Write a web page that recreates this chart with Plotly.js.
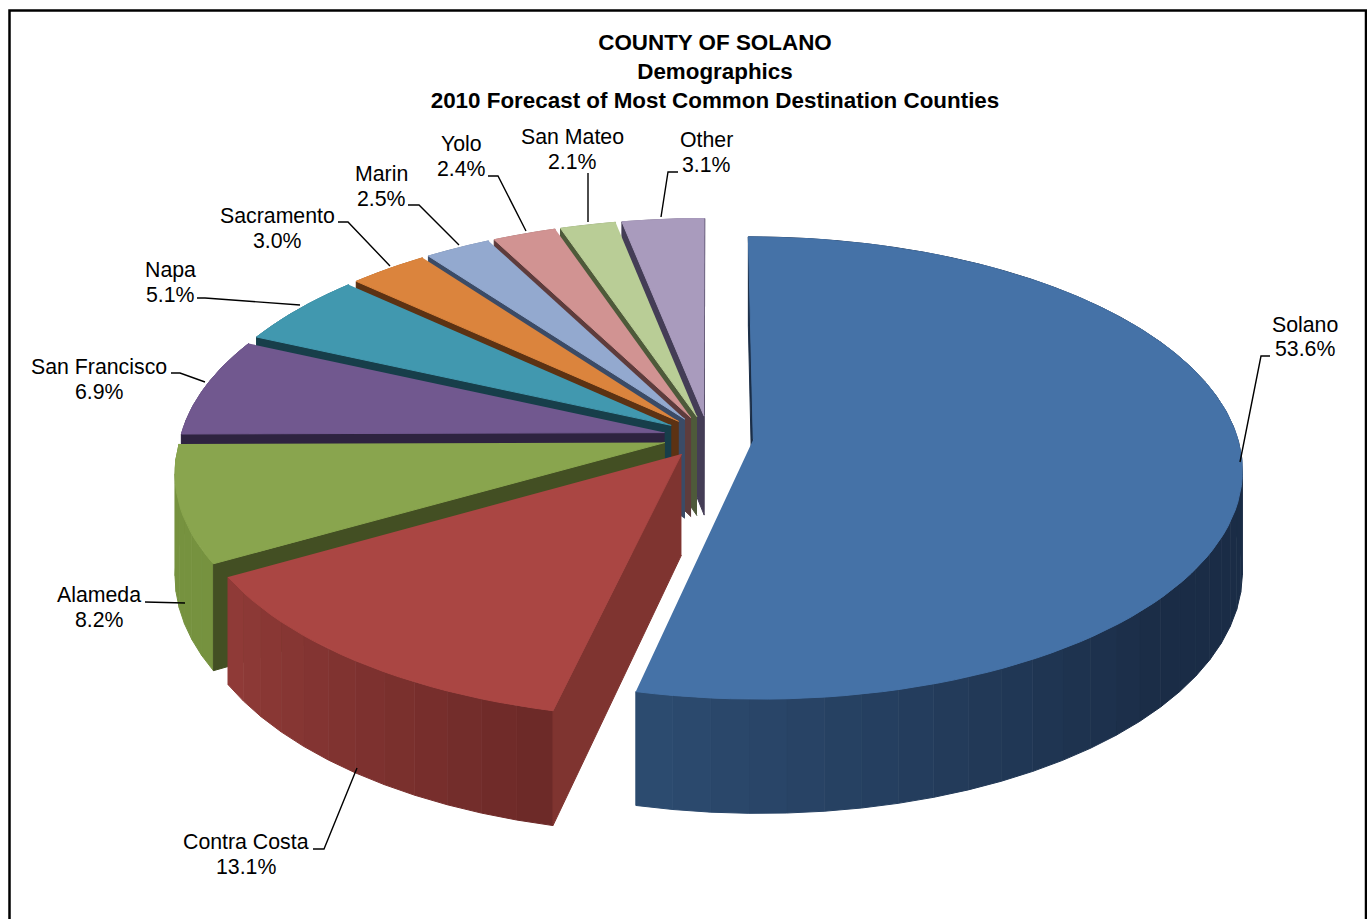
<!DOCTYPE html>
<html>
<head>
<meta charset="utf-8">
<script src="https://cdn.plot.ly/plotly-3.0.1.min.js"></script>
<style>html,body{margin:0;padding:0;background:#fff}#chart{width:1367px;height:919px}</style>
</head>
<body>
<div id="chart"></div>
<script>
// ---- data ----
const counties = ["Solano","Contra Costa","Alameda","San Francisco","Napa","Sacramento","Marin","Yolo","San Mateo","Other"];
const shares   = [53.6,13.1,8.2,6.9,5.1,3.0,2.5,2.4,2.1,3.1];

// ---- styles ----
const topColors    = ["#4572A7","#AA4643","#89A54E","#71588F","#4198AF","#DB843D","#93A9CF","#D19392","#B9CD96","#A99BBD"];
const radialColors = ["#1b2e47","#7f3430","#434f23","#2e2340","#173e4a","#5c3213","#3b4b66","#5e3c3c","#4e5a3a","#443d56"];
const wallLight    = ["#2c4b6f","#903b38","#76923f","#5a4673","#34798c","#af6a31","#7687a6","#a77675","#94a478","#877c97"];
const wallDark     = ["#1a2c46","#6c2927","#76923f","#5a4673","#34798c","#af6a31","#7687a6","#a77675","#94a478","#877c97"];
const shadeFrom    = [130,193,0,0,0,0,0,0,0,0];   // degrees where a wall is darkest
const shadeTo      = [190,240,1,1,1,1,1,1,1,1];   // degrees where a wall is lightest

// ---- label placement (page pixels on the hidden axes) ----
const labelX = [1305,246,99,99,170,277,381,461,572,706];
const nameY  = [325,842,595,367,270,216,174,144,137,140];
const valueY = [349,867,620,392,295,241,199,169,162,165];
const leaderX = [[1270,1261,1240],[313,324,357],[145,185],[171,180,205],[197,205,300],[338,348,390],[408,419,459],[488,498,526],[588,588],[678,668,661]];
const leaderY = [[356,356,462],[849,849,768],[602,603],[373,373,382],[298,298,305],[222,222,266],[205,205,245],[176,176,231],[173,222],[172,172,217]];

// ---- projection of the tilted pie ----
const CX=708.5, CY=437, RX=484, RY=227, K=0.1236, EXPLODE=0.093, DEPTH=100;
function project(u,v,z){
  const s=1/(1-K*v);
  return [CX+RX*u*s, CY+RY*v*s+(z?DEPTH*s:0)];
}
function hex2rgb(h){return [1,3,5].map(i=>parseInt(h.slice(i,i+2),16));}
function mix(a,b,t){const A=hex2rgb(a),B=hex2rgb(b);return 'rgb('+A.map((c,i)=>Math.round(c+(B[i]-c)*t)).join(',')+')';}

const traces=[];
function poly(pts,color,name){
  traces.push({type:'scatter',mode:'lines',x:pts.map(p=>p[0]),y:pts.map(p=>p[1]),fill:'toself',fillcolor:color,
    line:{color:color,width:1},hoverinfo:name?'text':'skip',text:name||'',showlegend:false});
}
const total=shares.reduce((a,b)=>a+b,0);
const slices=[];let acc=0;
shares.forEach((v,i)=>{
  const a0=acc/total*2*Math.PI; acc+=v; const a1=acc/total*2*Math.PI;
  slices.push({i,a0,a1});
});
// paint from the back of the fan to the front
for(let k=slices.length-1;k>=0;k--){
  const {i,a0,a1}=slices[k];
  const mid=(a0+a1)/2, ox=EXPLODE*Math.sin(mid), oy=-EXPLODE*Math.cos(mid);
  const rim=(a,z)=>project(ox+Math.sin(a),oy-Math.cos(a),z);
  const apex=z=>project(ox,oy,z);
  // outer wall as shaded strips
  const n=Math.max(3,Math.ceil((a1-a0)/(Math.PI/45)));
  for(let j=0;j<n;j++){
    const b0=a0+(a1-a0)*j/n, b1=a0+(a1-a0)*(j+1)/n;
    const deg=(b0+b1)/2*180/Math.PI;
    const t=Math.min(1,Math.max(0,(deg-shadeFrom[i])/(shadeTo[i]-shadeFrom[i])));
    poly([rim(b0,0),rim(b1,0),rim(b1,1),rim(b0,1)],mix(wallDark[i],wallLight[i],t));
  }
  // radial walls that face the viewer
  [a0,a1].forEach(a=>{
    const A=apex(0),R=rim(a,0),M=rim(mid,0);
    const dx=R[0]-A[0],dy=R[1]-A[1];
    const solidSide=dx*(M[1]-A[1])-dy*(M[0]-A[0]);
    if(solidSide*dx<0) poly([A,R,rim(a,1),apex(1)],radialColors[i]);
  });
  // top face
  const face=[apex(0)];
  const m=Math.max(8,Math.ceil((a1-a0)/(Math.PI/90)));
  for(let j=0;j<=m;j++) face.push(rim(a0+(a1-a0)*j/m,0));
  poly(face,topColors[i],counties[i]+': '+shares[i].toFixed(1)+'%');
}
// leader lines
counties.forEach((c,i)=>{
  traces.push({type:'scatter',mode:'lines',x:leaderX[i],y:leaderY[i],line:{color:'#000',width:1.4},hoverinfo:'skip',showlegend:false});
});

const annotations=[];
counties.forEach((c,i)=>{
  const base={xref:'x',yref:'y',x:labelX[i],showarrow:false,xanchor:'center',yanchor:'middle',font:{family:'"Liberation Sans",Arial,sans-serif',size:21.3,color:'#000'}};
  annotations.push(Object.assign({},base,{y:nameY[i],text:c}));
  annotations.push(Object.assign({},base,{y:valueY[i],text:shares[i].toFixed(1)+'%'}));
});

const layout={
  width:1367,height:919,margin:{l:0,r:0,t:0,b:0},paper_bgcolor:'#fff',plot_bgcolor:'#fff',showlegend:false,
  title:{text:'COUNTY OF SOLANO<br>Demographics<br>2010 Forecast of Most Common Destination Counties',
    x:715/1367,xref:'paper',xanchor:'center',y:1-50/919,yref:'container',yanchor:'top',
    font:{family:'"Liberation Sans",Arial,sans-serif',size:22.4,color:'#000',weight:700}},
  xaxis:{range:[0,1367],visible:false,fixedrange:true},
  yaxis:{range:[919,0],visible:false,fixedrange:true},
  annotations,
  shapes:[{type:'path',xref:'x',yref:'y',path:'M9.5,919 L9.5,10.5 L1366,10.5 L1366,919',line:{color:'#000',width:2.5}}]
};
Plotly.newPlot('chart',traces,layout,{displayModeBar:false,responsive:false});
</script>
</body>
</html>
